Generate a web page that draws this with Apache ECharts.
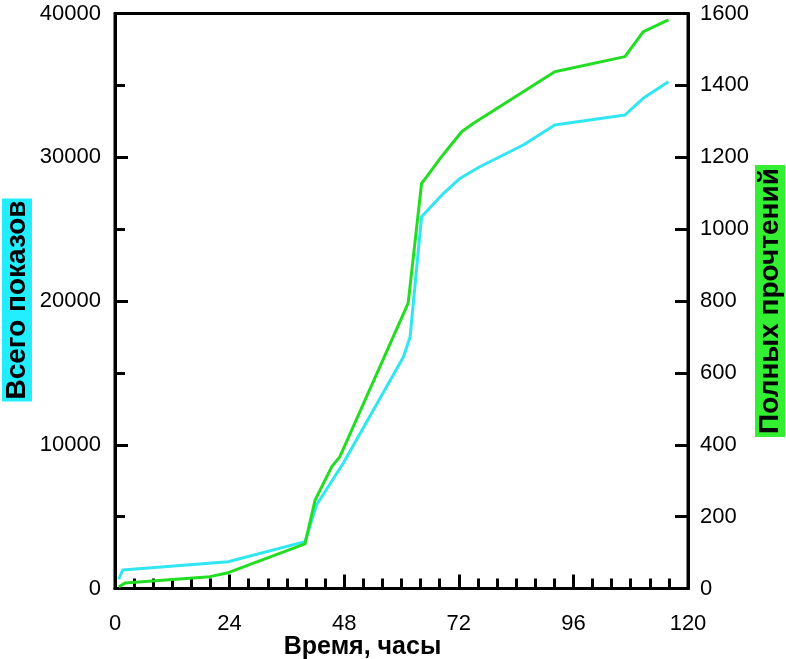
<!DOCTYPE html>
<html>
<head>
<meta charset="utf-8">
<script src="https://cdn.jsdelivr.net/npm/echarts@6/dist/echarts.min.js"></script>
<style>
html,body{margin:0;padding:0;background:#fff;}
#chart{width:786px;height:659px;}
</style>
</head>
<body>
<div id="chart"></div>
<script>
// Data
const viewHours = [0.8, 1.6, 23.7, 39.8, 42.2, 47.8, 60.4, 61.8, 64.2, 68.8, 72.3, 76.4, 85.5, 92.1, 106.8, 110.6, 115.9];
const views     = [640, 1290, 1860, 3260, 5810, 8710, 16100, 17500, 25860, 27490, 28540, 29340, 30850, 32240, 32940, 34100, 35260];
const readHours = [0.8, 2.1, 19.9, 23.7, 39.8, 41.9, 45.4, 47.1, 61.4, 64.2, 65.3, 68.1, 69.8, 72.6, 75.0, 92.1, 106.8, 110.6, 115.9];
const reads     = [5, 15, 33, 44, 124, 246, 339, 367, 794, 1127, 1146, 1197, 1225, 1271, 1294, 1438, 1480, 1549, 1582];

const xTitle = 'Время, часы';
const leftTitle = 'Всего показов';
const rightTitle = 'Полных прочтений';

const FONT = '"Liberation Sans", Arial, sans-serif';
const CYAN = '#30e6f0';
const GREEN = '#22dd22';
const plain = v => String(v);

const chart = echarts.init(document.getElementById('chart'), null, {renderer: 'canvas'});
chart.setOption({
  animation: false,
  backgroundColor: '#fff',
  grid: {left: 115, right: 98, top: 13.5, bottom: 70.5, containLabel: false, outerBoundsMode: 'none',
         show: true, borderColor: '#000', borderWidth: 3, backgroundColor: 'transparent'},
  xAxis: {
    type: 'value', min: 0, max: 120, interval: 24,
    axisLine: {show: true, lineStyle: {color: '#000', width: 3}},
    axisTick: {show: true, inside: true, length: 14, lineStyle: {color: '#000', width: 3}},
    minorTick: {show: true, splitNumber: 6, length: 10, lineStyle: {color: '#000', width: 3}},
    splitLine: {show: false},
    axisLabel: {fontSize: 22, color: '#000', fontFamily: FONT, margin: 24, formatter: plain},
    name: xTitle, nameLocation: 'middle', nameGap: 46, nameMoveOverlap: false,
    nameTextStyle: {fontSize: 25, fontWeight: 'bold', color: '#000', fontFamily: FONT, padding: [0, 78, 0, 0]}
  },
  yAxis: [
    {
      type: 'value', min: 0, max: 40000, interval: 10000, position: 'left',
      axisLine: {show: true, lineStyle: {color: '#000', width: 3}},
      axisTick: {show: true, inside: true, length: 13, lineStyle: {color: '#000', width: 3}},
      minorTick: {show: true, splitNumber: 2, length: 10, lineStyle: {color: '#000', width: 3}},
      splitLine: {show: false},
      axisLabel: {fontSize: 22, color: '#000', fontFamily: FONT, margin: 14, formatter: plain}
    },
    {
      type: 'value', min: 0, max: 1600, interval: 200, position: 'right',
      axisLine: {show: true, lineStyle: {color: '#000', width: 3}},
      axisTick: {show: true, inside: true, length: 13, lineStyle: {color: '#000', width: 3}},
      splitLine: {show: false},
      axisLabel: {fontSize: 22, color: '#000', fontFamily: FONT, margin: 12, formatter: plain}
    }
  ],
  graphic: [
    {type: 'text', x: 17, y: 300, rotation: Math.PI / 2,
     style: {text: leftTitle, font: 'bold 28px ' + FONT, fill: '#000', backgroundColor: '#22eeff',
             padding: [2, 2, 0, 2], align: 'center', verticalAlign: 'middle'}},
    {type: 'text', x: 770, y: 301, rotation: Math.PI / 2,
     style: {text: rightTitle, font: 'bold 28px ' + FONT, fill: '#000', backgroundColor: '#33ee33',
             padding: [2, 3, 0, 3], align: 'center', verticalAlign: 'middle'}}
  ],
  series: [
    {type: 'line', yAxisIndex: 0, showSymbol: false, lineStyle: {color: CYAN, width: 3},
     data: viewHours.map((h, i) => [h, views[i]])},
    {type: 'line', yAxisIndex: 1, showSymbol: false, lineStyle: {color: GREEN, width: 3},
     data: readHours.map((h, i) => [h, reads[i]])}
  ]
});
</script>
</body>
</html>
